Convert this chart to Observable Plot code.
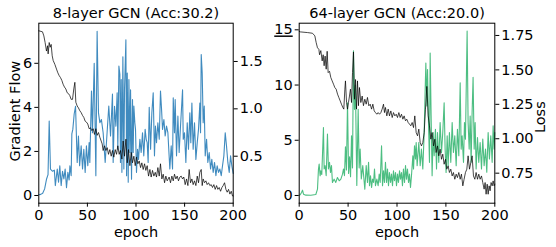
<!DOCTYPE html>
<html><head><meta charset="utf-8">
<script src="https://cdn.jsdelivr.net/npm/d3@7"></script>
<script src="https://cdn.jsdelivr.net/npm/@observablehq/plot@0.6"></script>
<style>
html,body{margin:0;padding:0;background:#fff;}
#chart{position:relative;width:556px;height:247px;overflow:hidden;background:#fff;}
#chart svg{position:absolute;left:0;top:0;}
</style></head><body><div id="chart"></div>
<script>
// ---------- data ----------
const titles = ["8-layer GCN (Acc:30.2)", "64-layer GCN (Acc:20.0)"];
const xTicks = [0, 50, 100, 150, 200];
const gradTicks8 = [0, 2, 4, 6];
const lossTicks8 = [0.5, 1.0, 1.5];
const gradTicks64 = [0, 5, 10, 15];
const lossTicks64 = [0.75, 1.0, 1.25, 1.5, 1.75];

// 8-layer: gradient flow (left axis)
const gradEp8 = [0,2,4,6,8,9.5,10.7,12,14,16,17,19,20.3,21.6,23,24.4,25.8,27.1,28.5,29.9,31.2,32,33.3,34,35,36.4,37.8,39.5,40.8,42,43.6,45,46.3,47.7,49,50.4,51.8,52.5,54.2,55.2,57,58.7,60,61.4,62.8,64.4,66.2,68.3,72,73.8,75.8,76.5,77.9,79.3,80.6,81.3,82.4,83.4,84,84.8,85.5,86.5,87.5,88.2,89.6,90.3,91,92,92.7,93.7,94.4,95.4,96.4,97.1,97.8,98.8,99.5,100.5,101.6,102.6,104,105.3,106.7,108,109.4,110.5,111.5,112.5,113.6,115,116.3,117.7,119,120,121.1,122.5,123.9,125.2,126.3,127.3,128.7,130,131.4,132.8,134.8,136.2,137.6,138.3,139.6,140.3,141.7,143.1,144.4,145.8,147.9,148.6,149.9,151.3,152.7,154,155.4,156.4,157.5,158.8,160.2,161.6,163,164.3,165.7,166.4,167.1,168.1,169.1,170.2,171.2,172.6,173.9,175.3,176.7,178,179.4,180.8,182.2,183.5,184.9,186.3,187.7,189,190.4,191.8,193.1,194.5,195.9,197.3,198.6,200];
const grad8 = [0.03,0.05,0.1,0.3,0.75,0.95,3.38,1.2,1.1,1.15,0.45,1.2,0.6,1.35,0.45,1.1,0.75,1.2,0.35,1.05,0.7,1.35,0.9,2.8,3.0,3.7,4.05,1.5,2.7,1.35,2.25,1.2,2.1,1.05,2.25,1.35,2.4,1.5,4.74,2.85,6.0,0.9,7.45,3.75,3.3,3.45,2.85,1.5,4.06,2.7,4.6,1.5,4.05,3.15,4.66,2.1,5.87,5.5,1.5,5.26,1.05,6.3,1.2,4.8,7.07,0.9,5.56,0.6,5.26,1.95,4.8,0.74,4.36,1.95,4.06,3.3,3.0,1.05,2.1,1.64,2.55,1.95,2.85,1.8,3.0,2.55,2.4,1.5,4.0,2.1,3.75,4.66,1.8,3.15,2.4,3.3,2.55,4.74,3.9,3.0,3.45,2.7,3.15,2.85,1.2,2.25,1.2,4.43,2.85,4.36,1.8,3.6,1.95,3.15,4.8,2.55,2.85,1.5,3.3,2.1,3.75,2.4,4.2,2.1,3.3,1.64,2.4,3.0,4.2,2.85,6.4,5.56,3.3,4.06,1.8,2.55,1.5,1.95,1.2,1.64,1.05,1.5,0.9,1.35,1.05,1.2,0.9,1.35,1.8,2.85,2.25,1.5,1.05,1.8,1.34,1.0];

// 8-layer: loss (right axis)
const lossEp8 = [0,3.8,5.2,6.5,7.9,9,9.6,10.7,11.7,12.7,13.8,14.8,16.5,18.2,19.6,21,22.3,23.7,25,26.4,27.8,29.2,30.6,31.9,33.3,34.7,36,37.1,38.1,39.5,40.8,42.2,43.6,45,46.3,47.7,49,50.4,51.8,53.2,54.6,56,57.3,58.7,60,61.4,62.8,64.2,65.2,66.2,67.6,69,70.4,71.7,73.1,74.5,75.8,77.2,78.6,80,81.3,82.7,84,85.5,86.8,88.2,89.6,91,92.3,93.7,95.1,96.4,97.8,99.2,100.5,101.9,103.3,104.7,106,107.4,108.8,110.1,111.5,112.9,114.3,115.6,117,118.4,119.8,121.1,122.5,123.9,125.2,126.6,128,129.4,130.7,132.1,134.1,135.5,136.9,138.3,139.6,141,142.4,143.7,145.1,146.5,147.9,149.2,150.6,152,153.4,154.7,156.1,157.5,158.8,160.2,161.6,163,164.3,165.7,167.1,168.1,169.1,170.5,171.9,173.2,174.6,176,177.4,178.7,180.1,181.5,182.9,184.2,185.6,187,188.4,189.7,191.1,192.5,193.8,195.2,196.6,198,199.3,200];
const loss8 = [1.824,1.813,1.77,1.70,1.61,1.666,1.58,1.70,1.65,1.68,1.56,1.51,1.47,1.42,1.38,1.35,1.33,1.30,1.26,1.23,1.21,1.17,1.16,1.14,1.10,1.10,1.21,1.28,1.07,1.03,1.01,0.98,0.96,0.93,0.91,0.87,0.86,0.84,0.79,0.80,0.77,0.79,0.73,0.79,0.72,0.75,0.70,0.66,0.63,0.56,0.61,0.56,0.59,0.52,0.57,0.50,0.56,0.49,0.57,0.52,0.61,0.52,0.56,0.47,0.66,0.50,0.68,0.43,0.57,0.40,0.54,0.43,0.50,0.40,0.49,0.42,0.45,0.38,0.43,0.36,0.42,0.35,0.40,0.29,0.36,0.28,0.35,0.29,0.33,0.28,0.38,0.29,0.42,0.26,0.31,0.22,0.29,0.24,0.28,0.22,0.29,0.24,0.31,0.26,0.29,0.24,0.28,0.29,0.26,0.28,0.20,0.26,0.19,0.36,0.22,0.26,0.20,0.24,0.19,0.29,0.22,0.33,0.36,0.19,0.26,0.22,0.24,0.20,0.22,0.19,0.20,0.17,0.20,0.15,0.19,0.15,0.17,0.13,0.17,0.19,0.22,0.15,0.12,0.15,0.10,0.13,0.08,0.08];

// 64-layer: gradient flow (left axis)
const gradEp64 = [0,1,2.4,3.4,4.4,6.8,11.9,17,18.7,19.7,20.4,21.4,22.1,23.1,24.8,25.5,26.5,27.6,28.9,29.9,31,32,33,34,35.7,37.4,39.1,40.9,42.6,44.3,45.3,46.3,47.3,48.3,49.4,50.5,51.5,52.5,53.5,54.5,55.5,56.5,57.5,58.9,60.3,61.3,62.3,63.5,65,67.1,68.5,69.8,70.9,71.9,72.9,74,75,76,77,78,79.4,80.7,81.8,82.8,84.2,85.2,86.2,87.2,88.2,89.3,90.3,91.3,92.3,93.4,94.4,95.4,96.4,97.4,98.5,99.5,100.5,101.5,102.6,103.6,104.6,105.6,106.6,107.7,108.7,109.7,110.7,111.8,112.8,113.8,114.8,116.2,116.9,117.9,118.9,119.6,120.6,122.3,123.7,125,126.4,127.8,128.8,129.5,130.5,131.2,132.2,133.2,133.9,134.9,135.9,137,138,139.3,140.4,141.4,142.7,144.1,145.5,146.8,148.2,149.2,150.2,151.3,152.3,153.6,155,156.4,157.7,159.1,160.5,161.8,163.2,164.6,165.6,166.6,168,169,170,171.7,172.7,173.8,174.8,175.8,176.8,177.8,178.9,179.9,180.9,182.3,183.6,185,186.4,187.7,189.1,190.5,191.8,193.2,194.5,195.9,197.3,198.3,199.3,200];
const grad64 = [0.02,0.06,0.27,0.48,0.12,0.03,0.02,0.09,0.57,2.4,2.84,1.78,2.23,1.9,6.16,2.4,2.7,1.78,5.56,2.4,3.0,2.08,2.7,1.18,1.48,1.18,1.63,1.33,1.48,1.93,2.4,1.8,4.4,2.3,8.4,2.0,3.5,1.7,5.4,2.5,13.1,7.8,10.0,0.9,7.8,2.5,4.2,1.5,2.7,0.57,2.7,1.18,3.0,0.88,1.78,0.72,1.48,1.18,2.4,0.88,1.48,0.88,1.93,1.18,4.5,0.88,2.23,1.18,3.0,1.18,2.4,0.88,2.08,1.18,1.93,0.88,2.23,1.33,2.08,0.88,1.93,1.18,2.23,1.48,2.08,0.88,2.4,1.18,2.7,1.48,2.4,1.18,1.93,0.72,1.78,3.6,2.4,4.5,3.3,4.8,2.7,4.8,2.7,4.2,2.4,5.7,9.6,12.0,8.1,11.4,6.6,3.0,12.9,7.2,1.78,5.7,3.6,6.0,2.4,5.7,3.0,6.6,3.9,5.7,8.4,4.2,2.08,5.4,2.7,5.7,3.0,6.6,3.9,5.4,2.7,6.0,3.6,10.2,4.2,5.4,3.0,6.6,5.1,14.9,6.6,4.2,7.2,3.0,7.5,10.7,4.2,6.6,2.4,5.25,3.0,4.8,2.4,5.1,2.7,4.2,2.1,5.7,3.3,5.4,3.0,6.3,4.2,5.7];

// 64-layer: loss (right axis)
const lossEp64 = [0,1,8.5,13.6,16,17.3,18.7,20.1,20.8,22.1,23.5,24.5,25.5,26.5,27.6,28.6,29.6,31,32.3,33.7,35.1,36.4,37.8,39.2,40.5,41.9,43.2,44.6,45.6,46.7,47.3,48.4,49.4,50.4,51.4,52.4,53.5,54.5,55.5,56.5,57.6,58.6,59.6,60.6,61.6,63,64.4,65.7,67.1,68.5,69.8,71.2,72.6,74,75.3,76.7,78,79.4,80.7,82.1,83.5,84.8,86.2,87.2,88.2,89.6,91,92.3,93.7,95.1,96.4,97.8,99.2,100.5,101.9,103.2,104.6,106,107.3,108.7,110,111.4,112.8,114.1,115.5,116.9,118.2,119.6,121,122.3,123.7,125,126.4,127.8,129.1,130.5,131.9,133.2,134.6,135.9,137.3,138.7,140,141.4,142.7,144.1,145.5,146.8,148.2,149.6,150.9,152.3,153.6,155,156.4,157.7,159.1,160.5,161.8,163.2,164.6,165.9,167.3,168.6,170,171.4,172.7,174.1,175.5,176.8,178.2,179.6,180.9,182.3,183.6,185,186.4,187.7,189.1,190.1,191.1,192.2,193.2,194.2,195.2,196.2,197.3,198.3,199.3,200];
const loss64 = [1.78,1.776,1.771,1.766,1.747,1.70,1.66,1.65,1.61,1.64,1.565,1.61,1.53,1.60,1.505,1.635,1.48,1.49,1.445,1.42,1.396,1.372,1.36,1.324,1.30,1.275,1.251,1.227,1.215,1.36,1.42,1.263,1.215,1.263,1.31,1.36,1.263,1.48,1.63,1.287,1.43,1.215,1.42,1.24,1.372,1.263,1.31,1.24,1.287,1.251,1.30,1.239,1.251,1.215,1.251,1.202,1.19,1.178,1.19,1.178,1.19,1.215,1.251,1.19,1.227,1.166,1.215,1.166,1.202,1.154,1.19,1.166,1.178,1.154,1.19,1.154,1.178,1.142,1.166,1.13,1.142,1.118,1.106,1.094,1.118,1.081,1.166,1.045,1.021,1.07,0.973,0.948,0.973,1.045,1.215,1.38,1.166,1.094,0.997,1.045,0.948,0.997,0.90,0.948,0.876,0.924,0.851,0.888,0.815,0.851,0.779,0.803,0.755,0.779,0.73,0.755,0.706,0.743,0.718,0.755,0.706,0.743,0.658,0.706,0.755,0.779,0.876,0.779,0.827,0.876,0.73,0.706,0.755,0.706,0.743,0.706,0.73,0.682,0.634,0.682,0.597,0.67,0.597,0.658,0.622,0.682,0.658,0.694,0.658,0.67];

// ---------- drawing ----------
const W = 556, H = 247;
const MT = 22.7, MB = 44.3;
const baseStyle = {fontSize: "14.5px", fontFamily: "'DejaVu Sans', sans-serif", background: "transparent", color: "#000", overflow: "visible"};
const pick = (ep, val) => val.slice(0, Math.min(ep.length, val.length)).map((v, i) => ({e: ep[i], v}));

function basePanel({ml, mr, gDom, gTicks, data, color, title, ylabel}) {
  const marks = [
    Plot.line(data, {x: "e", y: "v", stroke: color, strokeWidth: 1.1, strokeOpacity: 0.85}),
    Plot.frame({stroke: "#000", strokeWidth: 1}),
    Plot.axisX({ticks: xTicks, tickSize: 4, tickPadding: 3, label: null, tickFormat: d => String(d)}),
    Plot.axisY({ticks: gTicks, tickSize: 4, tickPadding: 2.5, label: null, tickFormat: d => String(d)}),
    Plot.text([title], {text: d => d, frameAnchor: "top", dy: -9.5, lineAnchor: "middle"}),
    Plot.text(["epoch"], {text: d => d, frameAnchor: "bottom", dy: 29, lineAnchor: "middle"})
  ];
  if (ylabel) marks.push(Plot.text([ylabel], {text: d => d, frameAnchor: "left", dx: -23.5, dy: -2, rotate: -90, textAnchor: "middle", lineAnchor: "middle"}));
  return Plot.plot({width: W, height: H, marginLeft: ml, marginRight: mr, marginTop: MT, marginBottom: MB,
    style: baseStyle, x: {domain: [0, 200]}, y: {domain: gDom}, marks});
}

function lossPanel({ml, mr, lDom, lTicks, data, fmt, ylabel}) {
  const marks = [
    Plot.line(data, {x: "e", y: "v", stroke: "#000", strokeWidth: 0.9, strokeOpacity: 0.8}),
    Plot.axisY({anchor: "right", ticks: lTicks, tickSize: 4, tickPadding: 2.5, label: null, tickFormat: d3.format(fmt)})
  ];
  if (ylabel) marks.push(Plot.text([ylabel], {text: d => d, frameAnchor: "right", dx: 45.5, dy: 4, rotate: -90, textAnchor: "middle", lineAnchor: "middle"}));
  return Plot.plot({width: W, height: H, marginLeft: ml, marginRight: mr, marginTop: MT, marginBottom: MB,
    style: baseStyle, x: {domain: [0, 200], axis: null}, y: {domain: lDom, axis: null}, marks});
}

const chart = document.getElementById("chart");
chart.append(basePanel({ml: 38.3, mr: 323.3, gDom: [-0.35, 7.82], gTicks: gradTicks8, data: pick(gradEp8, grad8), color: "#1f77b4", title: titles[0], ylabel: "Gradient Flow"}));
chart.append(lossPanel({ml: 38.3, mr: 323.3, lDom: [0.004, 1.904], lTicks: lossTicks8, data: pick(lossEp8, loss8), fmt: ".1f"}));
const right = basePanel({ml: 298.7, mr: 61.7, gDom: [-0.70, 15.6], gTicks: gradTicks64, data: pick(gradEp64, grad64), color: "#2eb36c", title: titles[1]});
chart.append(right);
chart.append(lossPanel({ml: 298.7, mr: 61.7, lDom: [0.532, 1.839], lTicks: lossTicks64, data: pick(lossEp64, loss64), fmt: ".2f", ylabel: "Loss"}));
// the reference shows the "15" tick label underlined
d3.select(right).selectAll("text").filter(function() { return this.textContent === "15"; }).style("text-decoration", "underline");
</script></body></html>
